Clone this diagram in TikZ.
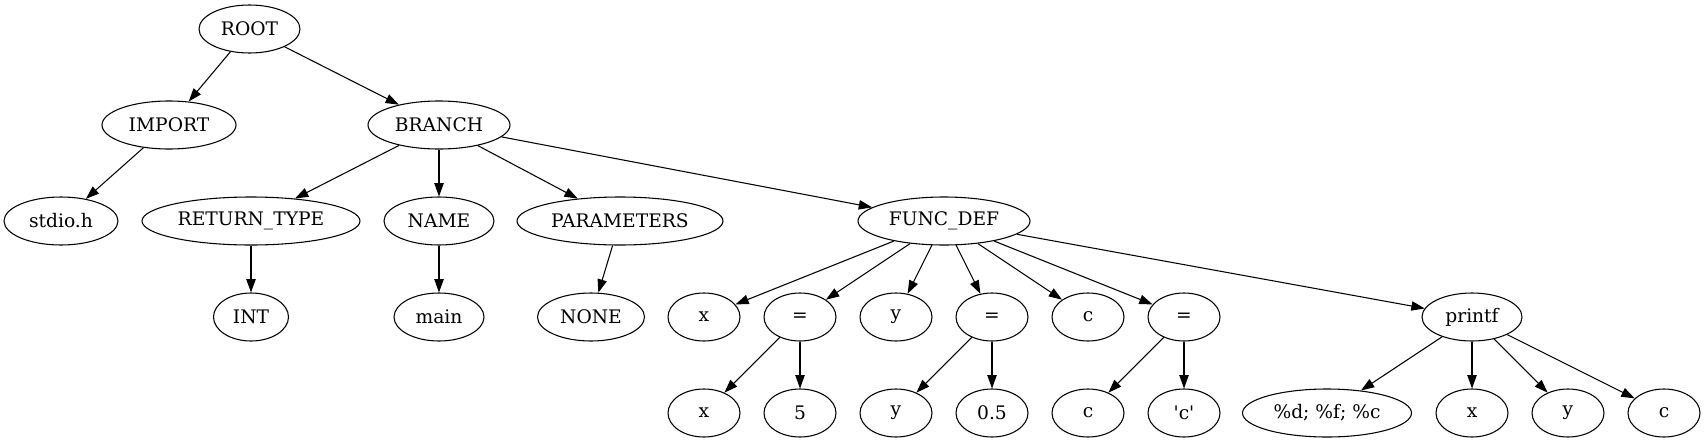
\documentclass[tikz,border=0pt]{standalone}
\usepackage{fontspec}
\setmainfont{DejaVu Serif}[Ligatures=TeXOff]
\usetikzlibrary{shapes.geometric,arrows.meta}
\begin{document}
\begin{tikzpicture}[x=0.75pt,y=-0.75pt,
  nd/.style={draw,ellipse,inner sep=0pt,minimum height=36pt,minimum width=54pt,line width=0.8pt,font=\fontsize{14pt}{16pt}\selectfont},
  edge/.style={line width=0.8pt,-{Triangle[length=10pt,width=7pt]}}]
\useasboundingbox (0,0) rectangle (1706,443);
% row 1
\node[nd,minimum width=75.75pt] (root) at (249.5,29) {ROOT};
% row 2
\node[nd,minimum width=100.5pt] (import) at (169,125) {IMPORT};
\node[nd,minimum width=106.5pt] (branch) at (439,125) {BRANCH};
% row 3
\node[nd,minimum width=85.5pt] (stdio) at (61,221) {stdio.h};
\node[nd,minimum width=163.5pt] (rtype) at (251,221) {RETURN\_TYPE};
\node[nd,minimum width=82.5pt] (name) at (439,221) {NAME};
\node[nd,minimum width=154.5pt] (params) at (620,221) {PARAMETERS};
\node[nd,minimum width=129pt] (fdef) at (944,221) {FUNC\_DEF};
% row 4
\node[nd,minimum width=56.25pt] (int) at (251,317) {INT};
\node[nd,minimum width=67.5pt] (main) at (439,317) {main};
\node[nd,minimum width=80.25pt] (none) at (591,317) {NONE};
\node[nd] (xa) at (704,317) {x};
\node[nd] (eqa) at (800,317) {=};
\node[nd] (ya) at (896,317) {y};
\node[nd] (eqb) at (992,317) {=};
\node[nd] (ca) at (1088,317) {c};
\node[nd] (eqc) at (1184,317) {=};
\node[nd,minimum width=75pt] (printf) at (1472,317) {printf};
% row 5
\node[nd] (xb) at (704,413) {x};
\node[nd] (five) at (800,413) {5};
\node[nd] (yb) at (896,413) {y};
\node[nd] (half) at (992,413) {0.5};
\node[nd] (cb) at (1088,413) {c};
\node[nd] (cq) at (1184,413) {'c'};
\node[nd,minimum width=126.75pt] (fmt) at (1327,413) {\%d; \%f; \%c};
\node[nd] (xc) at (1472,413) {x};
\node[nd] (yc) at (1568,413) {y};
\node[nd] (cc) at (1664,413) {c};
% edges
\draw[edge] (root) -- (import);
\draw[edge] (root) -- (branch);
\draw[edge] (import) -- (stdio);
\draw[edge] (branch) -- (rtype);
\draw[edge] (branch) -- (name);
\draw[edge] (branch) -- (params);
\draw[edge] (branch) -- (fdef);
\draw[edge] (rtype) -- (int);
\draw[edge] (name) -- (main);
\draw[edge] (params) -- (none);
\draw[edge] (fdef) -- (xa);
\draw[edge] (fdef) -- (eqa);
\draw[edge] (fdef) -- (ya);
\draw[edge] (fdef) -- (eqb);
\draw[edge] (fdef) -- (ca);
\draw[edge] (fdef) -- (eqc);
\draw[edge] (fdef) -- (printf);
\draw[edge] (eqa) -- (xb);
\draw[edge] (eqa) -- (five);
\draw[edge] (eqb) -- (yb);
\draw[edge] (eqb) -- (half);
\draw[edge] (eqc) -- (cb);
\draw[edge] (eqc) -- (cq);
\draw[edge] (printf) -- (fmt);
\draw[edge] (printf) -- (xc);
\draw[edge] (printf) -- (yc);
\draw[edge] (printf) -- (cc);
\end{tikzpicture}
\end{document}
